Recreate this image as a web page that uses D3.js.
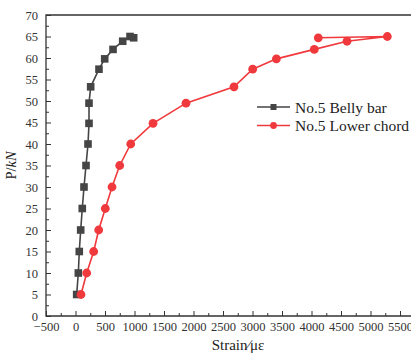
<!DOCTYPE html>
<html>
<head>
<meta charset="utf-8">
<script src="https://cdn.jsdelivr.net/npm/d3@7"></script>
<style>
  body { margin: 0; background: #fff; }
  svg text { font-family: "Liberation Serif", "Times New Roman", serif; }
</style>
</head>
<body>
<svg id="chart" width="411" height="355"></svg>
<script>
// load (kN) vs strain readings for the two gauges
var loads = [5, 10, 15, 20, 25, 30, 35, 40, 44.8, 49.5, 53.3, 57.4, 59.8, 62.0, 63.9, 65.0, 64.7];
var bellyStrain = [20, 48, 64, 88, 115, 144, 178, 212, 229, 229, 257, 398, 495, 636, 800, 924, 986];
var chordStrain = [93, 190, 308, 393, 505, 619, 749, 936, 1314, 1873, 2686, 3003, 3405, 4047, 4602, 5285, 4115];
var xTicks = [-500, 0, 500, 1000, 1500, 2000, 2500, 3000, 3500, 4000, 4500, 5000, 5500];
var yTicks = [0, 5, 10, 15, 20, 25, 30, 35, 40, 45, 50, 55, 60, 65, 70];

var series = [
  {name: "No.5 Belly bar", color: "#454545", shape: "square", x: bellyStrain},
  {name: "No.5 Lower chord", color: "#f0393c", shape: "circle", x: chordStrain}
];

var svg = d3.select("#chart");
var plotLeft = 46, plotTop = 15, plotBottom = 316, plotRight = 412;

var x = d3.scaleLinear().domain([-500, 5500]).range([plotLeft, 400]);
var y = d3.scaleLinear().domain([0, 70]).range([plotBottom, plotTop]);

var axisColor = "#333";

// frame: left, bottom and top lines (right side runs off the canvas)
svg.append("path")
  .attr("d", "M" + plotRight + "," + plotTop + "H" + plotLeft + "V" + plotBottom + "H" + plotRight)
  .attr("fill", "none").attr("stroke", axisColor).attr("stroke-width", 1.3);

// y axis, ticks pointing inward
var yAxis = d3.axisLeft(y).tickValues(yTicks).tickSize(-5).tickPadding(8);
svg.append("g").attr("class", "ax").attr("transform", "translate(" + plotLeft + ",0)").call(yAxis);
var yMinor = d3.axisLeft(y).tickValues(d3.range(2.5, 70, 5)).tickSize(-3).tickFormat("");
svg.append("g").attr("transform", "translate(" + plotLeft + ",0)").call(yMinor);

// x axis
var xAxis = d3.axisBottom(x).tickValues(xTicks).tickSize(-5).tickPadding(6)
  .tickFormat(function(d) { return d < 0 ? "\u2212" + Math.abs(d) : d; });
svg.append("g").attr("class", "ax").attr("transform", "translate(0," + plotBottom + ")").call(xAxis);
var xMinor = d3.axisBottom(x).tickValues(d3.range(-250, 5500, 500)).tickSize(-3).tickFormat("");
svg.append("g").attr("transform", "translate(0," + plotBottom + ")").call(xMinor);

svg.selectAll(".domain").remove();
svg.selectAll(".tick line").attr("stroke", axisColor).attr("stroke-width", 1);
svg.selectAll(".ax").attr("font-family", "Liberation Serif").attr("font-size", 12.5);
svg.selectAll(".tick text").attr("fill", "#333");

// axis titles
svg.append("text")
  .attr("transform", "translate(16," + ((plotTop + plotBottom) / 2) + ") rotate(-90)")
  .attr("text-anchor", "middle").attr("fill", "#222").style("font-size", "14.5px")
  .html('P/<tspan font-style="italic">kN</tspan>');

svg.append("text")
  .attr("x", 238).attr("y", 350)
  .attr("text-anchor", "middle").attr("fill", "#222").style("font-size", "15px")
  .text("Strain\u2215\u03bc\u03b5");

// series
var line = d3.line().x(function(d) { return x(d[0]); }).y(function(d) { return y(d[1]); });

series.forEach(function(s) {
  var pts = s.x.map(function(v, i) { return [v, loads[i]]; });
  var g = svg.append("g");
  g.append("path").datum(pts).attr("d", line)
    .attr("fill", "none").attr("stroke", s.color).attr("stroke-width", 1.6);
  if (s.shape === "square") {
    g.selectAll("rect").data(pts).enter().append("rect")
      .attr("x", function(d) { return x(d[0]) - 3.8; })
      .attr("y", function(d) { return y(d[1]) - 3.8; })
      .attr("width", 7.6).attr("height", 7.6).attr("fill", s.color);
  } else {
    g.selectAll("circle").data(pts).enter().append("circle")
      .attr("cx", function(d) { return x(d[0]); })
      .attr("cy", function(d) { return y(d[1]); })
      .attr("r", 4.4).attr("fill", s.color);
  }
});

// legend
var legend = svg.append("g").attr("transform", "translate(257,107)");
series.forEach(function(s, i) {
  var row = legend.append("g").attr("transform", "translate(0," + (i * 18.5) + ")");
  row.append("line").attr("x1", 0).attr("x2", 33).attr("y1", 0).attr("y2", 0)
    .attr("stroke", s.color).attr("stroke-width", 1.6);
  if (s.shape === "square") {
    row.append("rect").attr("x", 13.5).attr("y", -3).attr("width", 6).attr("height", 6).attr("fill", s.color);
  } else {
    row.append("circle").attr("cx", 16.5).attr("cy", 0).attr("r", 3.4).attr("fill", s.color);
  }
  row.append("text").attr("x", 38).attr("y", 5.5).attr("fill", "#222")
    .style("font-size", "15.5px").text(s.name);
});
</script>
</body>
</html>
